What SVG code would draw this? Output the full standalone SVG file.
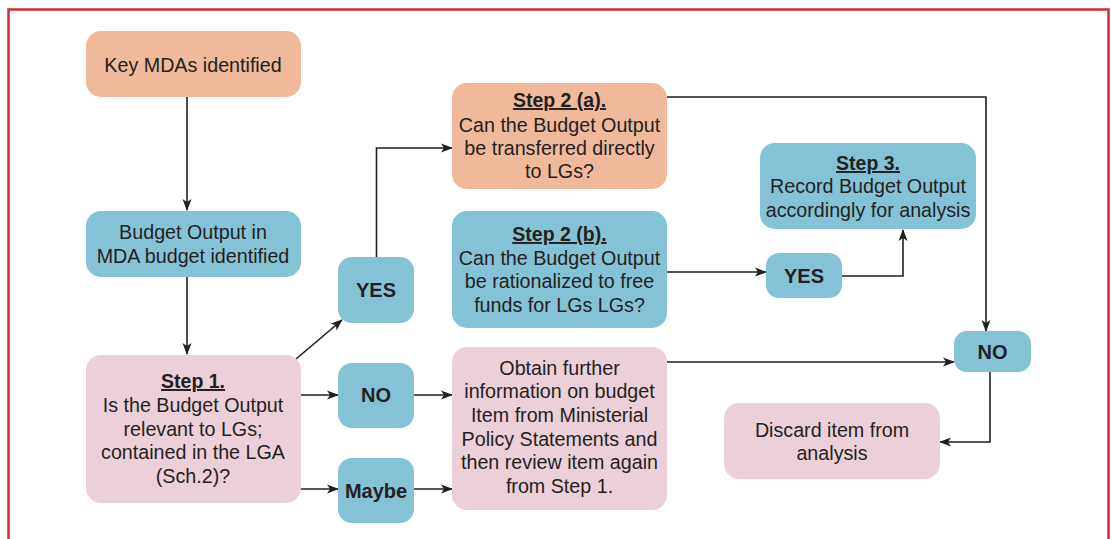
<svg xmlns="http://www.w3.org/2000/svg" width="1111" height="539" viewBox="0 0 1111 539">
<defs>
<marker id="ah" markerWidth="12" markerHeight="10" refX="11" refY="5" orient="auto" markerUnits="userSpaceOnUse">
<path d="M0,0.5 L12,5 L0,9.5 L3,5 Z" fill="#231f20"/>
</marker>
<style>
.orange{fill:#f0b99a}
.blue{fill:#84c3d6}
.pink{fill:#ecd0d9}
text{font-family:"Liberation Sans",Arial,sans-serif;font-size:19.7px;fill:#231f20;text-anchor:middle}
.u{font-weight:bold;text-decoration:underline;font-size:19.5px}
.lab{font-weight:bold;font-size:20px}
.conn{fill:none;stroke:#231f20;stroke-width:1.6;marker-end:url(#ah)}
</style>
</defs>
<rect x="0" y="0" width="1111" height="539" fill="#ffffff"/>
<rect x="8.5" y="9.5" width="1100" height="560" fill="none" stroke="#d7282f" stroke-width="2.5"/>

<g id="connectors">
<path class="conn" d="M187,97 V210"/>
<path class="conn" d="M187,277 V354"/>
<path class="conn" d="M296,359 L342,320"/>
<path class="conn" d="M300,395 H338"/>
<path class="conn" d="M414,395 H452"/>
<path class="conn" d="M300,489 H338"/>
<path class="conn" d="M414,489 H452"/>
<path class="conn" d="M376.5,257 V148 H452"/>
<path class="conn" d="M667,97 H986 V331"/>
<path class="conn" d="M667,272 H766"/>
<path class="conn" d="M842,276 H903 V230"/>
<path class="conn" d="M667,362 H954"/>
<path class="conn" d="M990,372 V442 H940"/>
</g>

<g id="key-mdas">
<rect class="orange" x="86" y="31" width="215" height="66" rx="15"/>
<text x="193" y="72">Key MDAs identified</text>
</g>

<g id="budget-output">
<rect class="blue" x="86" y="211" width="215" height="66" rx="15"/>
<text x="193" y="239">Budget Output in</text>
<text x="193" y="263">MDA budget identified</text>
</g>

<g id="step1">
<rect class="pink" x="86" y="355" width="215" height="148" rx="15"/>
<text class="u" x="193" y="388">Step 1.</text>
<text x="193" y="412">Is the Budget Output</text>
<text x="193" y="436">relevant to LGs;</text>
<text x="193" y="459">contained in the LGA</text>
<text x="193" y="483">(Sch.2)?</text>
</g>

<g id="yes-left">
<rect class="blue" x="338" y="257" width="76" height="66" rx="14"/>
<text class="lab" x="376" y="297">YES</text>
</g>

<g id="no-left">
<rect class="blue" x="338" y="363" width="76" height="65" rx="14"/>
<text class="lab" x="376" y="402">NO</text>
</g>

<g id="maybe">
<rect class="blue" x="338" y="458" width="76" height="65" rx="14"/>
<text class="lab" x="376" y="498">Maybe</text>
</g>

<g id="step2a">
<rect class="orange" x="452" y="83" width="215" height="106" rx="15"/>
<text class="u" x="559.5" y="107">Step 2 (a).</text>
<text x="559.5" y="132">Can the Budget Output</text>
<text x="559.5" y="155">be transferred directly</text>
<text x="559.5" y="178">to LGs?</text>
</g>

<g id="step2b">
<rect class="blue" x="452" y="211" width="215" height="117" rx="15"/>
<text class="u" x="559.5" y="241">Step 2 (b).</text>
<text x="559.5" y="265">Can the Budget Output</text>
<text x="559.5" y="288">be rationalized to free</text>
<text x="559.5" y="312">funds for LGs LGs?</text>
</g>

<g id="obtain">
<rect class="pink" x="452" y="347" width="215" height="163" rx="15"/>
<text x="559.5" y="375">Obtain further</text>
<text x="559.5" y="398">information on budget</text>
<text x="559.5" y="422">Item from Ministerial</text>
<text x="559.5" y="446">Policy Statements and</text>
<text x="559.5" y="469">then review item again</text>
<text x="559.5" y="493">from Step 1.</text>
</g>

<g id="step3">
<rect class="blue" x="760" y="143" width="216" height="86" rx="15"/>
<text class="u" x="868" y="170">Step 3.</text>
<text x="868" y="193">Record Budget Output</text>
<text x="868" y="217">accordingly for analysis</text>
</g>

<g id="yes-right">
<rect class="blue" x="766" y="253" width="76" height="45" rx="13"/>
<text class="lab" x="804" y="283">YES</text>
</g>

<g id="no-right">
<rect class="blue" x="954" y="331" width="77" height="41" rx="13"/>
<text class="lab" x="992.5" y="359">NO</text>
</g>

<g id="discard">
<rect class="pink" x="724" y="403" width="216" height="76" rx="15"/>
<text x="832" y="437">Discard item from</text>
<text x="832" y="460">analysis</text>
</g>
</svg>
